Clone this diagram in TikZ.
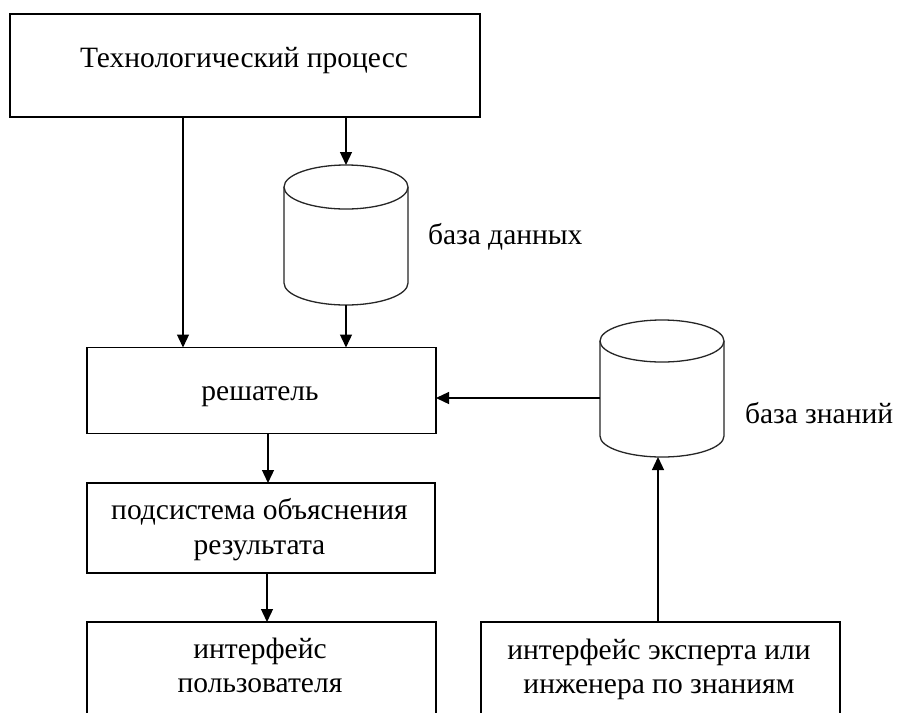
\documentclass[tikz,border=0pt]{standalone}
\usepackage{fontspec}
\setmainfont{Liberation Serif}
\usetikzlibrary{arrows.meta}
\begin{document}
\begin{tikzpicture}[x=1pt,y=-1pt,
  box/.style={draw=black,line width=1.3pt,inner sep=0pt,outer sep=0pt,fill=white},
  txt/.style={inner sep=0pt,outer sep=0pt,font=\fontsize{29.5}{34}\selectfont,text=black},
  cyl/.style={draw=black!85,line width=1.3pt,fill=white},
  arr/.style={draw=black,line width=1.3pt,-{Triangle[length=13pt,width=12pt]}}]
\useasboundingbox (0,0) rectangle (898,713);
\clip (0,0) rectangle (898,713);
\fill[white] (0,0) rectangle (898,713);
% boxes
\node[box,minimum width=470pt,minimum height=103pt] (tp) at (245,65.5) {};
\node[box,minimum width=349pt,minimum height=86pt] (res) at (261.5,390.5) {};
\node[box,minimum width=348pt,minimum height=90pt] (sub) at (261,528) {};
\node[box,minimum width=349pt,minimum height=140pt] (ui) at (261.5,692) {};
\node[box,minimum width=359pt,minimum height=140pt] (ex) at (660.5,692) {};
% texts
\node[txt,anchor=base] (tpt) at (244,67) {Технологический процесс};
\node[txt,anchor=base] (rest) at (260,400) {решатель};
\node[txt,anchor=base] (subt1) at (259.5,519) {подсистема объяснения};
\node[txt,anchor=base] (subt2) at (259.5,554) {результата};
\node[txt,anchor=base] (uit1) at (260,658) {интерфейс};
\node[txt,anchor=base] (uit2) at (260,692) {пользователя};
\node[txt,anchor=base] (ext1) at (659,659) {интерфейс эксперта или};
\node[txt,anchor=base] (ext2) at (659,693) {инженера по знаниям};
\node[txt,anchor=base west] (dbl) at (428,244) {база данных};
\node[txt,anchor=base west] (kbl) at (745,423) {база знаний};
% cylinders
\draw[cyl] (284pt,-187pt) -- (284pt,-283pt) arc[start angle=180,end angle=360,x radius=62pt,y radius=22pt] -- (408pt,-187pt);
\draw[cyl] (346pt,-187pt) ellipse[x radius=62pt,y radius=22pt];
\draw[cyl] (600pt,-341pt) -- (600pt,-436pt) arc[start angle=180,end angle=360,x radius=62pt,y radius=21pt] -- (724pt,-341pt);
\draw[cyl] (662pt,-341pt) ellipse[x radius=62pt,y radius=21pt];
\coordinate (dbtop) at (346,165);
\coordinate (dbbot) at (346,305);
\coordinate (kbleft) at (600,398);
\coordinate (kbbot) at (658,457);
\coordinate (c1) at (183,0);
\coordinate (c2) at (268,0);
\coordinate (c3) at (267,0);
% connectors
\draw[arr] (c1 |- tp.south) -- (c1 |- res.north);
\draw[arr] (dbtop |- tp.south) -- (dbtop);
\draw[arr] (dbbot) -- (dbbot |- res.north);
\draw[arr] (kbleft) -- (kbleft -| res.east);
\draw[arr] (c2 |- res.south) -- (c2 |- sub.north);
\draw[arr] (c3 |- sub.south) -- (c3 |- ui.north);
\draw[arr] (kbbot |- ex.north) -- (kbbot);
\end{tikzpicture}
\end{document}
